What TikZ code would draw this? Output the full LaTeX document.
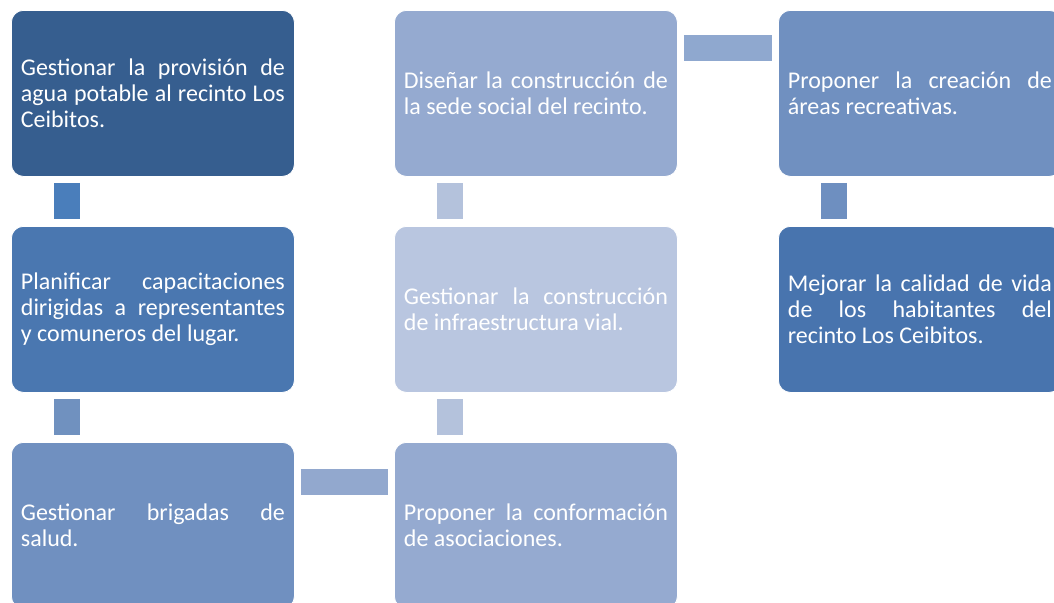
\documentclass[tikz,border=0pt]{standalone}
\usepackage{fontspec}
\setmainfont{Carlito}
\hyphenpenalty=10000
\exhyphenpenalty=10000
\definecolor{cA}{HTML}{365E8F}
\definecolor{cB}{HTML}{4A77B0}
\definecolor{cC}{HTML}{7090C0}
\definecolor{cD}{HTML}{95AAD0}
\definecolor{cE}{HTML}{B9C6E0}
\definecolor{lA}{HTML}{4A7EBB}
\definecolor{lB}{HTML}{7091BF}
\definecolor{lC}{HTML}{92A8CE}
\definecolor{lD}{HTML}{B4C2DC}
\definecolor{lE}{HTML}{8FA8CF}
\definecolor{lF}{HTML}{6E8FC0}
\definecolor{cF}{HTML}{4874AE}
\begin{document}
\begin{tikzpicture}[x=1pt,y=-1pt,
  box/.style={draw=white, line width=0.8pt, rounded corners=12pt, anchor=north west,
    minimum width=283pt, minimum height=166pt, inner xsep=9.5pt, inner ysep=0pt,
    text width=264pt, align=justify, text=white,
    font=\fontsize{24}{26}\selectfont},
  link/.style={line width=26pt, line cap=butt}]
\useasboundingbox (0,0) rectangle (1054,602);
\clip (0,0) rectangle (1054,602);
\node[box, fill=cA] (a) at (11,10) {Gestionar la provisión de\linebreak agua potable al recinto Los\linebreak Ceibitos.};
\node[box, fill=cB] (b) at (11,226) {Planificar capacitaciones\linebreak dirigidas a representantes\linebreak y comuneros del lugar.};
\node[box, fill=cC] (c) at (11,442) {Gestionar brigadas de\linebreak salud.};
\node[box, fill=cD] (d) at (394,442) {Proponer la conformación\linebreak de asociaciones.};
\node[box, fill=cE] (e) at (394,226) {Gestionar la construcción\linebreak de infraestructura vial.};
\node[box, fill=cD] (f) at (394,10) {Diseñar la construcción de\linebreak la sede social del recinto.};
\node[box, fill=cC] (g) at (778,10) {Proponer la creación de\linebreak áreas recreativas.};
\node[box, fill=cF] (h) at (778,226) {Mejorar la calidad de vida\linebreak de los habitantes del\linebreak recinto Los Ceibitos.};
\draw[link, lA] ([xshift=56pt, yshift=-6pt]a.south west) -- ([xshift=56pt, yshift=7pt]b.north west);
\draw[link, lB] ([xshift=56pt, yshift=-6pt]b.south west) -- ([xshift=56pt, yshift=7pt]c.north west);
\draw[link, lC] ([xshift=6pt, yshift=-39.5pt]c.north east) -- ([xshift=-6pt, yshift=-39.5pt]d.north west);
\draw[link, lD] ([xshift=56pt, yshift=7pt]d.north west) -- ([xshift=56pt, yshift=-6pt]e.south west);
\draw[link, lD] ([xshift=56pt, yshift=7pt]e.north west) -- ([xshift=56pt, yshift=-6pt]f.south west);
\draw[link, lE] ([xshift=6pt, yshift=-38.5pt]f.north east) -- ([xshift=-6pt, yshift=-38.5pt]g.north west);
\draw[link, lF] ([xshift=56pt, yshift=-6pt]g.south west) -- ([xshift=56pt, yshift=7pt]h.north west);
\end{tikzpicture}
\end{document}
